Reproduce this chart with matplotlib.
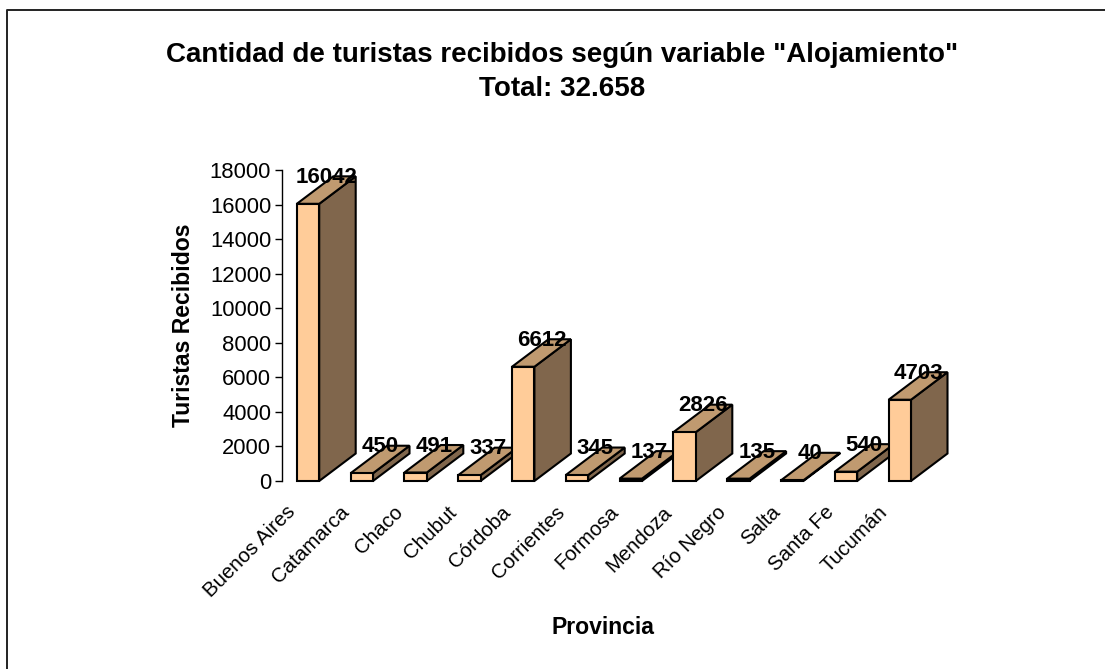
import matplotlib
matplotlib.use("Agg")
import matplotlib.pyplot as plt
from matplotlib.patches import Polygon
from matplotlib.transforms import ScaledTranslation

provincias = ["Buenos Aires", "Catamarca", "Chaco", "Chubut", "Córdoba", "Corrientes",
              "Formosa", "Mendoza", "Río Negro", "Salta", "Santa Fe", "Tucumán"]
turistas = [16042, 450, 491, 337, 6612, 345, 137, 2826, 135, 40, 540, 4703]
y_ticks = [0, 2000, 4000, 6000, 8000, 10000, 12000, 14000, 16000, 18000]

W, H = 1105, 669
plt.rcParams['font.family'] = ['Liberation Sans', 'DejaVu Sans']

fig = plt.figure(figsize=(W / 100, H / 100), dpi=100)
ax_left, ax_right, ax_top, ax_bottom = 281.5, 981.0, 170.0, 481.0
ax = fig.add_axes([ax_left / W, 1 - ax_bottom / H, (ax_right - ax_left) / W, (ax_bottom - ax_top) / H])
step = 53.8
x0 = (308 - ax_left) / step
ax.set_xlim(-x0, (ax_right - ax_left) / step - x0)
ax.set_ylim(0, 18000)

half = 11.2 / step
dx = 36.5 / step
dy = 27.5 * 18000 / 311
front = '#FFCC99'
top = '#C09A70'
side = '#80664C'
edge = 'black'

# later bars are drawn over earlier ones
for i, v in enumerate(turistas):
    l, r = i - half, i + half
    ax.add_patch(Polygon([(r, 0), (r + dx, dy), (r + dx, v + dy), (r, v)], fc=side, ec=edge, lw=1.5, clip_on=False, joinstyle='miter', zorder=2 + i))
    ax.add_patch(Polygon([(l, v), (l + dx, v + dy), (r + dx, v + dy), (r, v)], fc=top, ec=edge, lw=1.5, clip_on=False, joinstyle='miter', zorder=2 + i))
    ax.add_patch(Polygon([(l, 0), (r, 0), (r, v), (l, v)], fc=front, ec=edge, lw=1.5, clip_on=False, joinstyle='miter', zorder=2 + i))

for i, v in enumerate(turistas):
    ax.text(i + 0.34, v + dy * 0.96, str(v), ha='center', va='center', fontsize=16, fontweight='bold', zorder=30)

for s in ['top', 'right', 'bottom']:
    ax.spines[s].set_visible(False)
ax.spines['left'].set_linewidth(1.0)
ax.set_yticks(y_ticks)
ax.tick_params(axis='y', length=5.4, width=1.0, labelsize=15.8, pad=2)
ax.set_xticks(range(len(provincias)))
ax.set_xticklabels(provincias, rotation=45, ha='right', rotation_mode='anchor', fontsize=14.8)
ax.tick_params(axis='x', length=0, pad=15.5)
shift = ScaledTranslation(-22 / 100, 0, fig.dpi_scale_trans)
for label in ax.get_xticklabels():
    label.set_transform(label.get_transform() + shift)

fig.text(183 / W, 1 - 325 / H, "Turistas Recibidos", rotation=90, ha='center', va='center', fontsize=16.6, fontweight='bold')
fig.text(603 / W, 1 - 628 / H, "Provincia", ha='center', va='center', fontsize=16.6, fontweight='bold')
fig.text(562.5 / W, 1 - 54.5 / H, "Cantidad de turistas recibidos según variable \"Alojamiento\"", ha='center', va='center', fontsize=19.95, fontweight='bold')
fig.text(562.5 / W, 1 - 88.5 / H, "Total: 32.658", ha='center', va='center', fontsize=19.95, fontweight='bold')

# outer frame: only top and left show
fig.add_artist(plt.Line2D([6.5 / W, 6.5 / W, 1], [0, 1 - 10 / H, 1 - 10 / H], color='#222222', lw=1.4))

fig.savefig("out.png", dpi=100)
plt.close()
